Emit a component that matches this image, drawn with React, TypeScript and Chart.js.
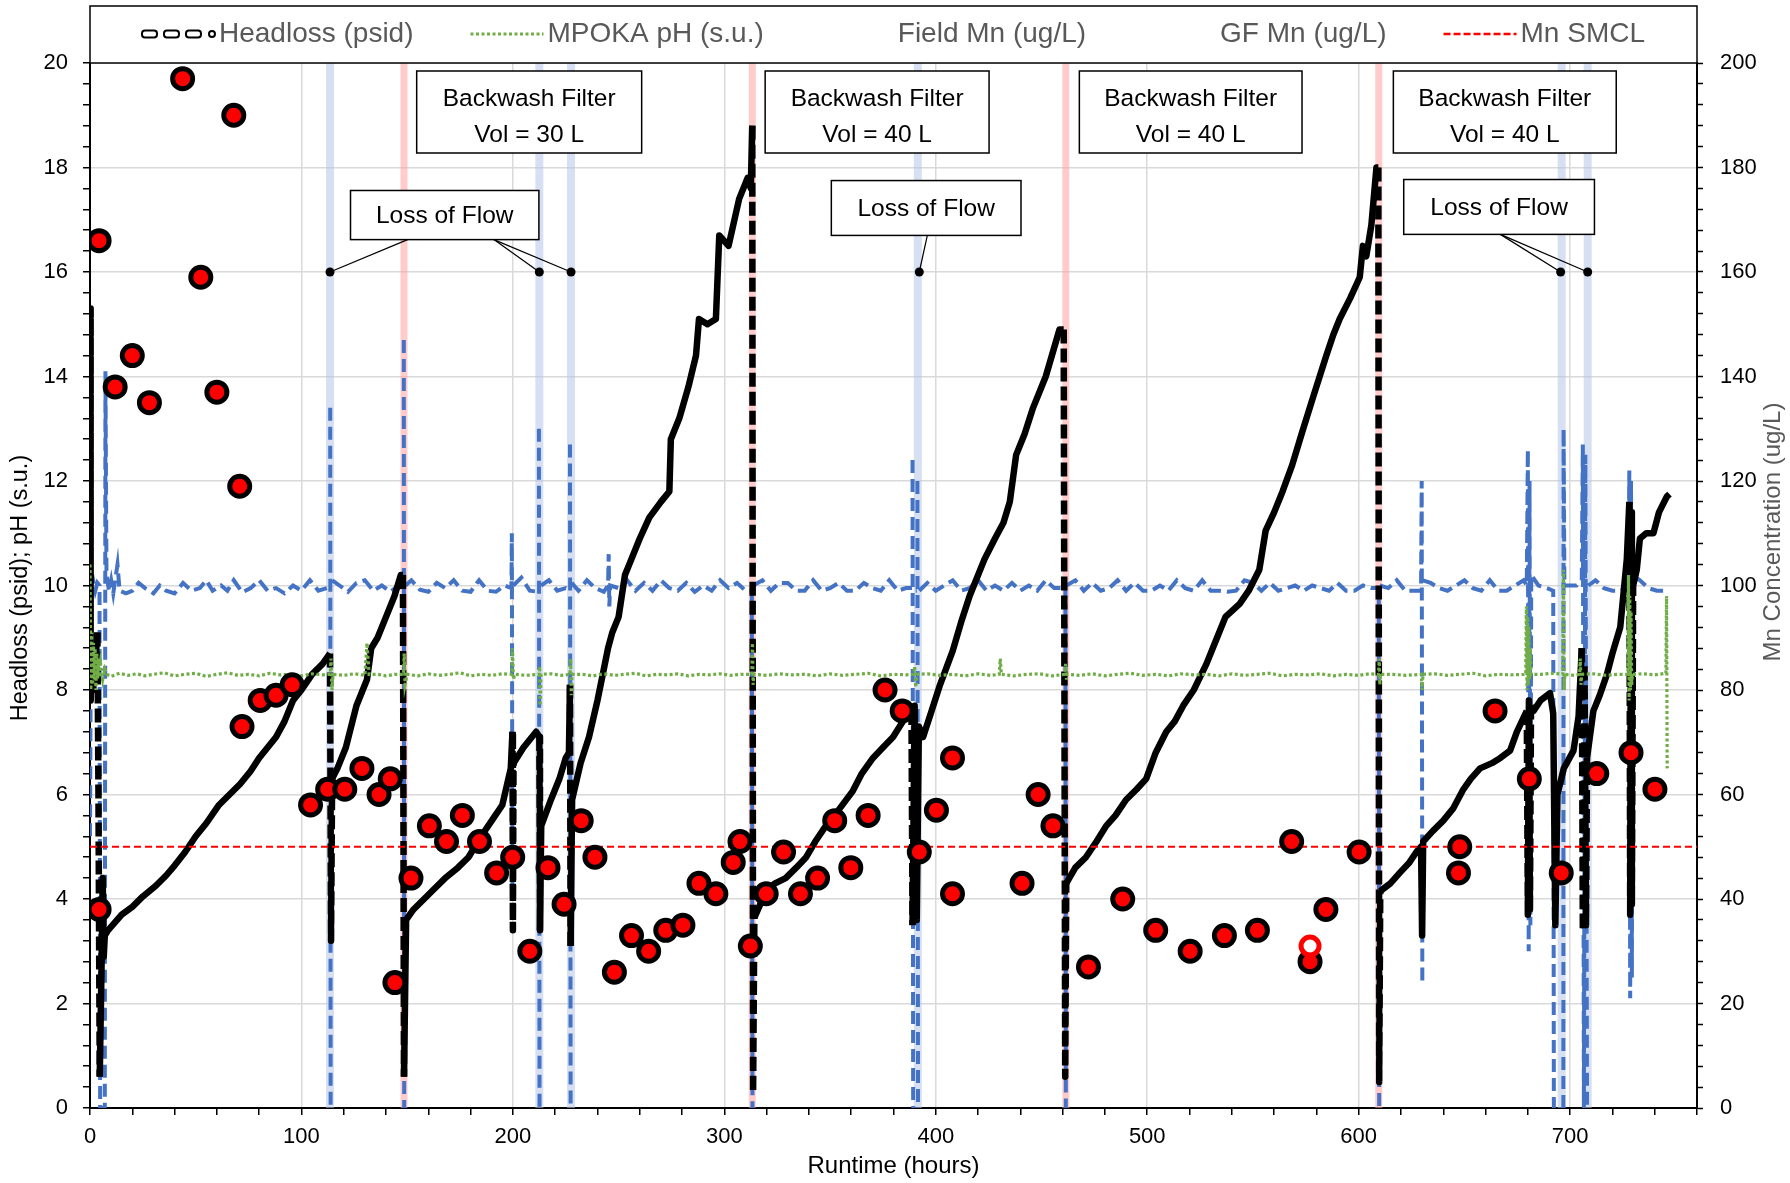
import React, { useEffect, useRef } from 'react';
import { Chart, registerables } from 'chart.js';
Chart.register(...registerables);

const W = 1790;
const H = 1183;
const FONT = '"Liberation Sans", Arial, sans-serif';
const GRAY = '#595959';
const GRID = '#D9D9D9';
const BLUE = '#4472C4';
const GREEN = '#70AD47';
const RED = '#FF0000';

// ---- Headloss (psid), left axis: [runtime h, psid]
const headloss: [number, number][] = [
  [0, 15.3], [0.3, 7.8], [1, 8.4], [1.5, 8.0], [2, 8.3], [3, 8.8], [3.5, 9.1], [4, 6.0], [4.6, 0.6], [5.5, 2.8],
  [6, 4.4], [6.5, 2.9], [7, 3.3], [8.5, 3.4], [15, 3.7], [20, 3.85], [25, 4.05], [31, 4.25], [36, 4.45], [40, 4.64],
  [45, 4.9], [50, 5.2], [55, 5.45], [61, 5.8], [66, 6.0], [71, 6.2], [76, 6.45], [80, 6.7], [84, 6.9], [88, 7.1],
  [92, 7.4], [96, 7.8], [100, 8.0], [105, 8.3], [110, 8.5], [113.5, 8.7], [114, 3.2], [114.5, 6.3], [117, 6.5], [121, 6.9],
  [126, 7.7], [131, 8.2], [133, 8.8], [136, 9.0], [140, 9.4], [144, 9.8], [147, 10.2], [148, 10.2], [148.5, 0.6], [149.5, 3.6],
  [153, 3.8], [158, 4.0], [163, 4.2], [168, 4.4], [174, 4.6], [179, 4.8], [185, 5.2], [190, 5.5], [195, 5.8], [199, 6.5],
  [199.8, 7.2], [200, 3.4], [200.3, 6.6], [205, 6.9], [211, 7.2], [212.5, 7.1], [212.8, 3.4], [213.4, 5.4], [218, 5.9], [222, 6.3],
  [225, 6.7], [226.5, 6.8], [227, 8.1], [227.3, 3.1], [228, 5.9], [232, 6.6], [236, 7.1], [240, 7.8], [242, 8.2], [245, 8.8],
  [247, 9.1], [250, 9.4], [253, 10.2], [255, 10.4], [260, 10.9], [264.5, 11.3], [270, 11.6], [274, 11.8], [274.7, 12.8], [278.7, 13.2],
  [283, 13.8], [286.6, 14.4], [288, 15.1], [292, 15.0], [296, 15.1], [297.6, 16.7], [302, 16.5], [307, 17.4], [311, 17.8], [312.5, 17.6],
  [313.2, 18.8], [313.6, 0.3], [314.2, 3.64], [319.7, 4.15], [324, 4.3], [329, 4.4], [334, 4.6], [338.7, 4.8], [343, 5.1], [348, 5.4],
  [354, 5.7], [360.8, 6.07], [365, 6.4], [370.3, 6.7], [375, 6.9], [379.8, 7.1], [386, 7.5], [388.5, 7.6], [389, 3.5], [390, 7.7],
  [391, 3.6], [392, 7.3], [394, 7.1], [398, 7.6], [402, 8.1], [408, 8.75], [412, 9.3], [416, 9.8], [423, 10.5], [428, 10.9],
  [432, 11.2], [435, 11.6], [438, 12.5], [442, 12.9], [446, 13.4], [452, 14.0], [458.5, 14.9], [460.5, 14.9], [461.2, 0.6], [461.7, 4.3],
  [466, 4.6], [471, 4.8], [476, 5.1], [480.6, 5.4], [485, 5.6], [490, 5.9], [495, 6.1], [499.5, 6.3], [504, 6.8], [509, 7.2],
  [513, 7.4], [517, 7.7], [522, 8.0], [528, 8.5], [533, 9.0], [537, 9.4], [543.7, 9.65], [548, 9.9], [553, 10.3], [556, 11.05],
  [560, 11.4], [564, 11.8], [568.5, 12.3], [573, 12.9], [578.4, 13.6], [584.7, 14.4], [588, 14.8], [591, 15.1], [596, 15.5], [600.5, 15.9],
  [602, 16.5], [603.6, 16.3], [606, 16.9], [608.4, 18.0], [609.3, 18.0], [609.7, 0.5], [610.2, 4.15], [615, 4.3], [619.4, 4.5], [624, 4.7],
  [627.3, 4.9], [629.5, 5.0], [630, 3.3], [630.5, 5.1], [635, 5.3], [640, 5.5], [644.8, 5.74], [649.5, 6.1], [653, 6.3], [657.4, 6.5],
  [663, 6.6], [667, 6.7], [671.6, 6.84], [674.8, 7.2], [679.5, 7.6], [680, 3.7], [680.5, 7.8], [681, 3.8], [681.5, 7.7], [682.7, 7.6],
  [686, 7.8], [690.5, 7.94], [692, 7.55], [693, 3.5], [694, 6.0], [697, 6.5], [701.6, 6.84], [704, 7.5], [705.5, 8.8], [706, 3.4],
  [706.8, 8.5], [707.5, 3.5], [708, 6.7], [711, 7.6], [714, 7.9], [717.4, 8.3], [720, 8.7], [723.7, 9.2], [726.8, 10.5], [728, 11.6],
  [728.4, 3.7], [728.8, 11.4], [729.2, 3.9], [729.8, 10.0], [731.5, 10.3], [733, 10.9], [736, 11.0], [739.4, 11.0], [742, 11.4], [745.7, 11.7],
  [747, 11.75],
];

// ---- MPOKA pH (s.u.), left axis
const mpokaPh: [number, number][] = [
  [0, 10.4], [0.4, 8.0], [0.8, 9.1], [1.2, 8.1], [1.6, 8.9], [2, 8.2], [2.4, 8.8], [2.8, 8.0], [3.2, 8.7], [3.6, 8.2],
  [4, 8.6], [4.5, 8.25], [5, 8.5], [6, 8.2], [7, 8.4], [8, 8.3], [10, 8.26], [14, 8.32], [18, 8.28], [22, 8.31],
  [26, 8.27], [30, 8.3], [35, 8.33], [40, 8.27], [45, 8.3], [50, 8.32], [55, 8.26], [60, 8.3], [65, 8.33], [70, 8.28],
  [75, 8.3], [80, 8.27], [85, 8.32], [90, 8.29], [95, 8.3], [100, 8.27], [105, 8.31], [110, 8.29], [113.6, 8.3], [114, 8.6],
  [114.4, 8.0], [115, 8.3], [120, 8.28], [125, 8.31], [130, 8.28], [131, 8.9], [132, 8.3], [136, 8.3], [140, 8.27], [144, 8.3],
  [148.3, 8.3], [148.6, 8.7], [149, 8.1], [150, 8.3], [155, 8.27], [160, 8.31], [165, 8.28], [170, 8.3], [175, 8.33], [180, 8.27],
  [185, 8.3], [190, 8.28], [195, 8.31], [199.5, 8.3], [199.8, 8.8], [200.2, 8.2], [201, 8.3], [206, 8.28], [212.3, 8.3], [212.6, 8.45],
  [212.9, 7.7], [213.3, 8.3], [218, 8.31], [223, 8.28], [227, 8.3], [227.3, 8.6], [227.6, 7.9], [228, 8.3], [233, 8.3], [238, 8.27],
  [243, 8.31], [248, 8.28], [253, 8.3], [258, 8.32], [263, 8.27], [268, 8.3], [273, 8.29], [278, 8.31], [283, 8.27], [288, 8.3],
  [293, 8.29], [298, 8.31], [303, 8.28], [308, 8.3], [313, 8.3], [313.3, 8.9], [313.6, 8.1], [314, 8.3], [320, 8.28], [326, 8.31],
  [332, 8.29], [338, 8.3], [344, 8.27], [350, 8.31], [356, 8.28], [362, 8.3], [368, 8.32], [374, 8.27], [380, 8.3], [386, 8.29],
  [389.5, 8.3], [390, 8.45], [390.5, 8.05], [391, 8.3], [396, 8.31], [402, 8.28], [408, 8.3], [414, 8.27], [420, 8.31], [426, 8.28],
  [430, 8.3], [430.5, 8.6], [431, 8.3], [437, 8.27], [443, 8.3], [449, 8.31], [455, 8.27], [461, 8.3], [461.4, 8.5], [461.8, 8.2],
  [462, 8.3], [468, 8.28], [474, 8.31], [480, 8.27], [486, 8.3], [492, 8.32], [498, 8.28], [504, 8.3], [510, 8.27], [516, 8.31],
  [522, 8.29], [528, 8.3], [534, 8.27], [540, 8.31], [546, 8.28], [552, 8.3], [558, 8.32], [564, 8.27], [570, 8.3], [576, 8.29],
  [582, 8.31], [588, 8.27], [594, 8.3], [600, 8.28], [605, 8.31], [609.4, 8.3], [609.7, 8.6], [610, 8.1], [610.3, 8.3], [616, 8.3],
  [622, 8.28], [629.6, 8.3], [630, 8.0], [630.4, 8.3], [636, 8.31], [642, 8.28], [648, 8.3], [654, 8.32], [660, 8.27], [666, 8.3],
  [672, 8.29], [679, 8.3], [679.3, 9.6], [679.6, 8.0], [679.9, 9.4], [680.2, 8.1], [680.5, 9.2], [680.8, 8.2], [681.1, 8.8], [681.5, 8.3],
  [686, 8.3], [692, 8.32], [696.5, 8.3], [696.8, 10.3], [697.1, 8.0], [697.5, 8.3], [702, 8.28], [704.5, 8.3], [704.8, 8.6], [705.1, 8.1],
  [705.5, 8.3], [711, 8.31], [717, 8.28], [723, 8.3], [727.3, 8.3], [727.6, 10.2], [727.9, 7.8], [728.2, 9.8], [728.5, 8.0], [728.8, 9.5],
  [729.1, 8.1], [729.5, 8.3], [734, 8.31], [740, 8.29], [745.3, 8.32], [745.6, 9.8], [745.9, 6.5],
];

// ---- Online Mn signal (blue dashed, right axis, ug/L); null = break in the trace
const onlineMn: [number, number | null][] = [
  [0, 52], [0.5, 100], [1.5, 101], [2.5, 99], [3.5, 100.5], [4.5, 100], [4.8, 0], [7, 0], [7.3, 141], [7.8, 102],
  [9, 99], [10, 101], [11, 98.5], [13, 104], [14, 99], [17, 98.5], [20, 99], [23, 100.5], [26, 99.5], [30, 98.5],
  [33, 100], [36, 99], [40, 98.5], [44, 100.5], [48, 99], [52, 99.5], [55, 101], [58, 99], [62, 100], [65, 99],
  [68, 101], [72, 98.7], [76, 99.5], [80, 101], [84, 99], [88, 99.5], [92, 98.5], [96, 100], [100, 99], [104, 101],
  [108, 99], [112, 99.5], [113.5, 99], [113.5, null], [113.6, 134], [113.8, 0], [113.8, null], [114.6, 101], [118, 100], [122, 98.8],
  [126, 100.5], [130, 101], [134, 99], [138, 100], [142, 98.8], [146, 100], [148.3, 99], [148.3, null], [148.4, 147], [148.6, 0],
  [148.6, null], [149.2, 100], [152, 101], [156, 99.2], [160, 98.8], [164, 100.5], [168, 99.5], [172, 101], [176, 99], [180, 98.8],
  [184, 101], [188, 99], [192, 98.8], [196, 100], [199.3, 99.5], [199.5, 110], [199.8, 40], [199.8, null], [200.2, 100], [204, 101.5],
  [208, 99], [212, 98.8], [212, null], [212.3, 130], [212.6, 0], [212.6, null], [213.3, 100], [217, 101], [221, 99], [225, 99.5],
  [226.8, 99], [226.8, null], [227, 127], [227.3, 0], [227.3, null], [227.8, 100.5], [231, 99], [235, 101], [239, 99.5], [243, 98.8],
  [245, 100], [245.3, 106], [245.6, 96], [246, 100], [250, 99.5], [254, 101], [258, 99], [262, 100.5], [266, 99], [270, 101],
  [274, 99.5], [278, 99], [282, 100.5], [286, 98.8], [290, 100], [294, 99], [298, 101], [302, 99.5], [306, 100.5], [310, 99],
  [313, 99], [313.3, 0], [313.3, null], [313.7, 100], [318, 101], [322, 99], [326, 100.5], [330, 100.5], [334, 99], [338, 99],
  [342, 101], [346, 99], [350, 99.5], [354, 100.5], [358, 99], [362, 99], [366, 100.5], [370, 99.5], [374, 99], [378, 101],
  [382, 99], [386, 99.5], [388.8, 99.5], [388.8, null], [389, 124], [389.3, 0], [389.3, null], [390.5, 99], [391, 99], [391, null],
  [391.3, 120], [391.6, 0], [391.6, null], [392.2, 99], [396, 100.5], [400, 99], [404, 100], [408, 101], [412, 99], [416, 99.5],
  [420, 101], [424, 99], [428, 100], [432, 99], [436, 100.5], [440, 99], [444, 100], [448, 99], [452, 101], [456, 99.5],
  [460, 99.5], [461.3, 100], [461.5, 0], [461.5, null], [461.8, 100], [466, 101], [470, 99], [474, 100.5], [478, 99], [482, 99.5],
  [486, 101], [490, 99], [494, 100.5], [498, 99], [502, 99], [506, 100], [510, 99], [514, 101], [518, 99.5], [522, 99],
  [526, 101], [530, 99], [534, 99], [538, 98.8], [542, 99], [546, 101], [550, 100.5], [554, 99], [558, 100.5], [562, 99],
  [566, 99.5], [570, 100], [574, 99], [578, 100], [582, 99.5], [586, 99], [590, 100.5], [594, 99], [598, 99], [602, 100],
  [606, 99.5], [609.5, 99.5], [609.7, 0], [609.7, null], [610, 100], [614, 99.5], [618, 101], [622, 99], [626, 99], [629.5, 99],
  [629.8, 120], [630.1, 24], [630.1, null], [630.4, 101], [634, 100.5], [638, 99.5], [642, 99], [646, 100], [650, 101], [654, 99.5],
  [658, 99], [662, 101], [666, 99], [670, 99], [674, 100], [678, 101], [679.5, 100], [680, 126], [680.4, 30], [680.8, 120],
  [681.2, 35], [681.6, 102], [685, 100], [689, 99.5], [692, 99], [692.3, 0], [692.3, null], [696.8, 0], [696.9, 130], [697.3, 100],
  [699, 100], [703, 100], [705.5, 101], [706, 127], [706.5, 0], [707.2, 125], [708, 0], [708, null], [708.6, 100], [712, 101],
  [716, 99.5], [720, 99], [724, 99], [727.5, 100], [728, 122], [728.4, 21], [728.8, 120], [729.2, 25], [729.6, 102], [733, 101],
  [737, 99.5], [741, 99], [746, 99],
];

// ---- GF Mn (ug/L), right axis
const gfMn: [number, number][] = [
  [4.3, 38], [4.3, 166], [11.9, 138], [20, 144], [28.1, 135], [43.8, 197], [52.4, 159], [60, 137], [68, 190], [70.8, 119],
  [71.9, 73], [80.5, 78], [88, 79], [95.6, 81], [104.3, 58], [112.4, 61], [120.5, 61], [128.6, 65], [136.7, 60], [142, 63],
  [144.2, 24], [151.8, 44], [160.5, 54], [168.6, 51], [176.1, 56], [184.2, 51], [192.3, 45], [199.9, 48], [208, 30], [216.6, 46],
  [224.2, 39], [232.3, 55], [238.8, 48], [248, 26], [256.1, 33], [264.2, 30], [272.3, 34], [280.4, 35], [288, 43], [296, 41],
  [304.2, 47], [307.4, 51], [312.3, 31], [319.8, 41], [328, 49], [336, 41], [344.1, 44], [352.2, 55], [359.8, 46], [368, 56],
  [376, 80], [384.1, 76], [392.2, 49], [400.3, 57], [407.9, 41], [407.9, 67], [440.8, 43], [448.4, 60], [455.4, 54], [472.2, 27],
  [488.4, 40], [504, 34], [520.3, 30], [536.5, 33], [552.1, 34], [568.3, 51], [577, 28], [584.5, 38], [600.2, 49], [647.2, 45],
  [647.8, 50], [664.5, 76], [680.7, 63], [695.8, 45], [712.6, 64], [728.8, 68], [740.1, 61],
];

// ---- Field Mn (ug/L), right axis
const fieldMn: [number, number][] = [[577, 31]];

// ---- Mn SMCL (ug/L), right axis
const smcl: [number, number][] = [[0, 50], [760, 50]];

// ---- Event bands (runtime h)
const lossOfFlowHours = [113.5, 212.5, 227.5, 391.5, 696, 708.3];
const backwashHours = [148.5, 313.2, 461.5, 609.5];

// ---- Annotation boxes (runtime h / left-axis units)
const backwashBoxes = [
  { x0: 154.5, x1: 260.9, lines: ['Backwash Filter', 'Vol = 30 L'] },
  { x0: 319.3, x1: 425.2, lines: ['Backwash Filter', 'Vol = 40 L'] },
  { x0: 467.9, x1: 573.2, lines: ['Backwash Filter', 'Vol = 40 L'] },
  { x0: 616.4, x1: 721.8, lines: ['Backwash Filter', 'Vol = 40 L'] },
];
const lossBoxes = [
  { x0: 123.2, x1: 212.3, top: 17.56, bottom: 16.62, leaders: [[150.2, 113.5], [191, 212.5], [191, 227.5]] },
  { x0: 350.6, x1: 440.3, top: 17.75, bottom: 16.7, leaders: [[396, 392.2]] },
  { x0: 621.3, x1: 711.5, top: 17.77, bottom: 16.72, leaders: [[667, 695.5], [667, 708.3]] },
];
const calloutLevel = 16;

const legendLabels = ['Headloss (psid)', 'MPOKA pH (s.u.)', 'Field Mn (ug/L)', 'GF Mn (ug/L)', 'Mn SMCL'];
const legendMarkers = ['hollowDash', 'dots', 'none', 'none', 'dash'];

const toXY = (arr: [number, number | null][]) => arr.map(([x, y]) => ({ x, y }));
const isMult = (v: number, m: number) => Math.abs(v / m - Math.round(v / m)) < 1e-6;

const decorPlugin = {
  id: 'decor',
  beforeDatasetsDraw(chart: any) {
    const { ctx, chartArea: a, scales } = chart;
    const xs = scales.x;
    ctx.save();
    ctx.fillStyle = 'rgba(180,199,231,0.55)';
    lossOfFlowHours.forEach((h) => {
      const px = xs.getPixelForValue(h);
      ctx.fillRect(px - 4, a.top, 8, a.bottom - a.top);
    });
    ctx.fillStyle = 'rgba(255,160,160,0.55)';
    backwashHours.forEach((h) => {
      const px = xs.getPixelForValue(h);
      ctx.fillRect(px - 3.5, a.top, 7, a.bottom - a.top);
    });
    ctx.restore();
  },
  afterDatasetsDraw(chart: any) {
    const { ctx, scales } = chart;
    const xs = scales.x;
    const ys = scales.y;
    ctx.save();
    backwashBoxes.forEach((b) => {
      const l = xs.getPixelForValue(b.x0);
      const r = xs.getPixelForValue(b.x1);
      const t = 71;
      const h = 82;
      ctx.fillStyle = '#fff';
      ctx.fillRect(l, t, r - l, h);
      ctx.strokeStyle = '#000';
      ctx.lineWidth = 1.5;
      ctx.strokeRect(l, t, r - l, h);
      ctx.fillStyle = '#000';
      ctx.font = `24.5px ${FONT}`;
      ctx.textAlign = 'center';
      ctx.textBaseline = 'middle';
      ctx.fillText(b.lines[0], (l + r) / 2, t + 28.5);
      ctx.fillText(b.lines[1], (l + r) / 2, t + 64);
    });
    lossBoxes.forEach((b) => {
      const l = xs.getPixelForValue(b.x0);
      const r = xs.getPixelForValue(b.x1);
      const t = ys.getPixelForValue(b.top);
      const bt = ys.getPixelForValue(b.bottom);
      ctx.strokeStyle = '#000';
      ctx.lineWidth = 1.2;
      b.leaders.forEach(([from, to]) => {
        ctx.beginPath();
        ctx.moveTo(xs.getPixelForValue(from), bt);
        ctx.lineTo(xs.getPixelForValue(to), ys.getPixelForValue(calloutLevel));
        ctx.stroke();
        ctx.fillStyle = '#000';
        ctx.beginPath();
        ctx.arc(xs.getPixelForValue(to), ys.getPixelForValue(calloutLevel), 4.5, 0, Math.PI * 2);
        ctx.fill();
      });
      ctx.fillStyle = '#fff';
      ctx.fillRect(l, t, r - l, bt - t);
      ctx.lineWidth = 1.5;
      ctx.strokeRect(l, t, r - l, bt - t);
      ctx.fillStyle = '#000';
      ctx.font = `24.5px ${FONT}`;
      ctx.textAlign = 'center';
      ctx.textBaseline = 'middle';
      ctx.fillText('Loss of Flow', (l + r) / 2, (t + bt) / 2 + 1);
    });
    ctx.restore();
  },
  afterDraw(chart: any) {
    const { ctx, chartArea: a } = chart;
    ctx.save();
    ctx.fillStyle = '#fff';
    ctx.fillRect(a.left, 6, a.right - a.left, a.top - 6);
    ctx.strokeStyle = '#000';
    ctx.lineWidth = 1.5;
    ctx.strokeRect(a.left, 6, a.right - a.left, a.top - 6);
    ctx.font = `28px ${FONT}`;
    const markerW = 73;
    const gapMT = 4;
    const G = 57;
    const widths = legendLabels.map((s) => markerW + gapMT + ctx.measureText(s).width);
    const total = widths.reduce((s, w) => s + w, 0) + G * (legendLabels.length - 1);
    let x = (a.left + a.right) / 2 - total / 2;
    const cy = 34;
    legendLabels.forEach((label, i) => {
      const m = legendMarkers[i];
      ctx.save();
      if (m === 'hollowDash') {
        ctx.strokeStyle = '#000';
        ctx.lineWidth = 2;
        for (let k = 0; k < 3; k++) {
          ctx.beginPath();
          ctx.roundRect(x + k * 22, cy - 3.5, 15, 7, 3);
          ctx.stroke();
        }
        ctx.fillStyle = '#fff';
        ctx.beginPath();
        ctx.arc(x + 70, cy, 3, 0, Math.PI * 2);
        ctx.fill();
        ctx.stroke();
      } else if (m === 'dots') {
        ctx.strokeStyle = GREEN;
        ctx.lineWidth = 3;
        ctx.setLineDash([3, 2.5]);
        ctx.beginPath();
        ctx.moveTo(x, cy);
        ctx.lineTo(x + markerW, cy);
        ctx.stroke();
      } else if (m === 'dash') {
        ctx.strokeStyle = RED;
        ctx.lineWidth = 2.5;
        ctx.setLineDash([7, 3]);
        ctx.beginPath();
        ctx.moveTo(x, cy);
        ctx.lineTo(x + markerW, cy);
        ctx.stroke();
      }
      ctx.restore();
      ctx.fillStyle = GRAY;
      ctx.textAlign = 'left';
      ctx.textBaseline = 'middle';
      ctx.fillText(label, x + markerW + gapMT, cy);
      x += widths[i] + G;
    });
    ctx.fillStyle = '#000';
    ctx.font = `23.5px ${FONT}`;
    ctx.textAlign = 'center';
    ctx.textBaseline = 'middle';
    ctx.save();
    ctx.translate(21, 588);
    ctx.rotate(-Math.PI / 2);
    ctx.fillText('Headloss (psid); pH (s.u.)', 0, 0);
    ctx.restore();
    ctx.save();
    ctx.fillStyle = GRAY;
    ctx.font = `24px ${FONT}`;
    ctx.translate(1773, 532);
    ctx.rotate(-Math.PI / 2);
    ctx.fillText('Mn Concentration (ug/L)', 0, 0);
    ctx.restore();
    ctx.font = `24px ${FONT}`;
    ctx.fillText('Runtime (hours)', (a.left + a.right) / 2, 1166);
    ctx.restore();
  },
};

export default function App() {
  const ref = useRef<HTMLCanvasElement>(null);
  useEffect(() => {
    document.body.style.margin = '0';
    const canvas = ref.current;
    if (!canvas) return;
    const steep = (c: any) =>
      Math.abs(c.p1.parsed.y - c.p0.parsed.y) / Math.max(Math.abs(c.p1.parsed.x - c.p0.parsed.x), 1e-6) > 5;
    const tickFont = { family: FONT, size: 22 };
    const chart = new Chart(canvas, {
      type: 'line',
      data: {
        datasets: [
          {
            label: 'GF Mn (ug/L)',
            data: toXY(gfMn),
            yAxisID: 'y2',
            showLine: false,
            pointRadius: 10,
            pointBorderWidth: 5,
            pointBackgroundColor: RED,
            pointBorderColor: '#000',
            order: 1,
          },
          {
            label: 'Field Mn (ug/L)',
            data: toXY(fieldMn),
            yAxisID: 'y2',
            showLine: false,
            pointRadius: 9,
            pointBorderWidth: 5,
            pointBackgroundColor: '#fff',
            pointBorderColor: RED,
            order: 0,
          },
          {
            label: 'Mn SMCL',
            data: toXY(smcl),
            yAxisID: 'y2',
            borderColor: RED,
            borderWidth: 2.2,
            borderDash: [7, 4],
            pointRadius: 0,
            order: 2,
          },
          {
            label: 'MPOKA pH (s.u.)',
            data: toXY(mpokaPh),
            yAxisID: 'y',
            borderColor: GREEN,
            borderWidth: 3.2,
            borderDash: [3, 2.5],
            pointRadius: 0,
            order: 3,
          },
          {
            label: 'Headloss (psid)',
            data: toXY(headloss),
            yAxisID: 'y',
            borderColor: '#000',
            borderWidth: 6.5,
            borderJoinStyle: 'round',
            pointRadius: 0,
            segment: { borderDash: (c: any) => (steep(c) ? [14, 5] : undefined) },
            order: 4,
          },
          {
            label: 'Online Mn',
            data: toXY(onlineMn),
            yAxisID: 'y2',
            borderColor: BLUE,
            borderWidth: 4,
            borderDash: [13, 6],
            pointRadius: 0,
            spanGaps: false,
            order: 5,
          },
        ],
      },
      options: {
        responsive: false,
        animation: false,
        devicePixelRatio: 1,
        layout: { padding: { top: 63, left: 0, right: 0, bottom: 0 } },
        plugins: { legend: { display: false }, tooltip: { enabled: false } },
        elements: { line: { tension: 0 } },
        scales: {
          x: {
            type: 'linear',
            position: 'bottom',
            min: 0,
            max: 760,
            afterFit: (s: any) => { s.height = 75; },
            ticks: {
              stepSize: 20,
              autoSkip: false,
              maxRotation: 0,
              padding: 9,
              color: '#000',
              font: tickFont,
              callback: (v: any) => (isMult(Number(v), 100) ? String(v) : ''),
            },
            grid: {
              color: (c: any) => (c.tick && isMult(c.tick.value, 100) && c.tick.value > 0 ? GRID : 'rgba(0,0,0,0)'),
              lineWidth: 1.5,
              tickColor: '#000',
              tickLength: 7,
              tickWidth: 1.5,
            },
            border: { color: '#000', width: 2 },
          },
          y: {
            type: 'linear',
            position: 'left',
            min: 0,
            max: 20,
            afterFit: (s: any) => { s.width = 90; },
            ticks: {
              stepSize: 0.4,
              autoSkip: false,
              padding: 15,
              color: '#000',
              font: tickFont,
              callback: (v: any) => (isMult(Number(v), 2) ? String(Math.round(Number(v))) : ''),
            },
            grid: {
              color: (c: any) => (c.tick && isMult(c.tick.value, 2) && c.tick.value > 0 ? GRID : 'rgba(0,0,0,0)'),
              lineWidth: 1.5,
              tickColor: '#000',
              tickLength: 7,
              tickWidth: 1.5,
            },
            border: { color: '#000', width: 2 },
          },
          y2: {
            type: 'linear',
            position: 'right',
            min: 0,
            max: 200,
            afterFit: (s: any) => { s.width = 93; },
            ticks: {
              stepSize: 4,
              autoSkip: false,
              padding: 17,
              color: '#000',
              font: tickFont,
              callback: (v: any) => (isMult(Number(v), 20) ? String(Math.round(Number(v))) : ''),
            },
            grid: {
              drawOnChartArea: false,
              tickColor: '#000',
              tickLength: 6,
              tickWidth: 1.5,
            },
            border: { color: '#000', width: 2 },
          },
        },
      },
      plugins: [decorPlugin],
    } as any);
    return () => chart.destroy();
  }, []);
  return <canvas ref={ref} width={W} height={H} style={{ display: 'block', width: W, height: H }} />;
}
